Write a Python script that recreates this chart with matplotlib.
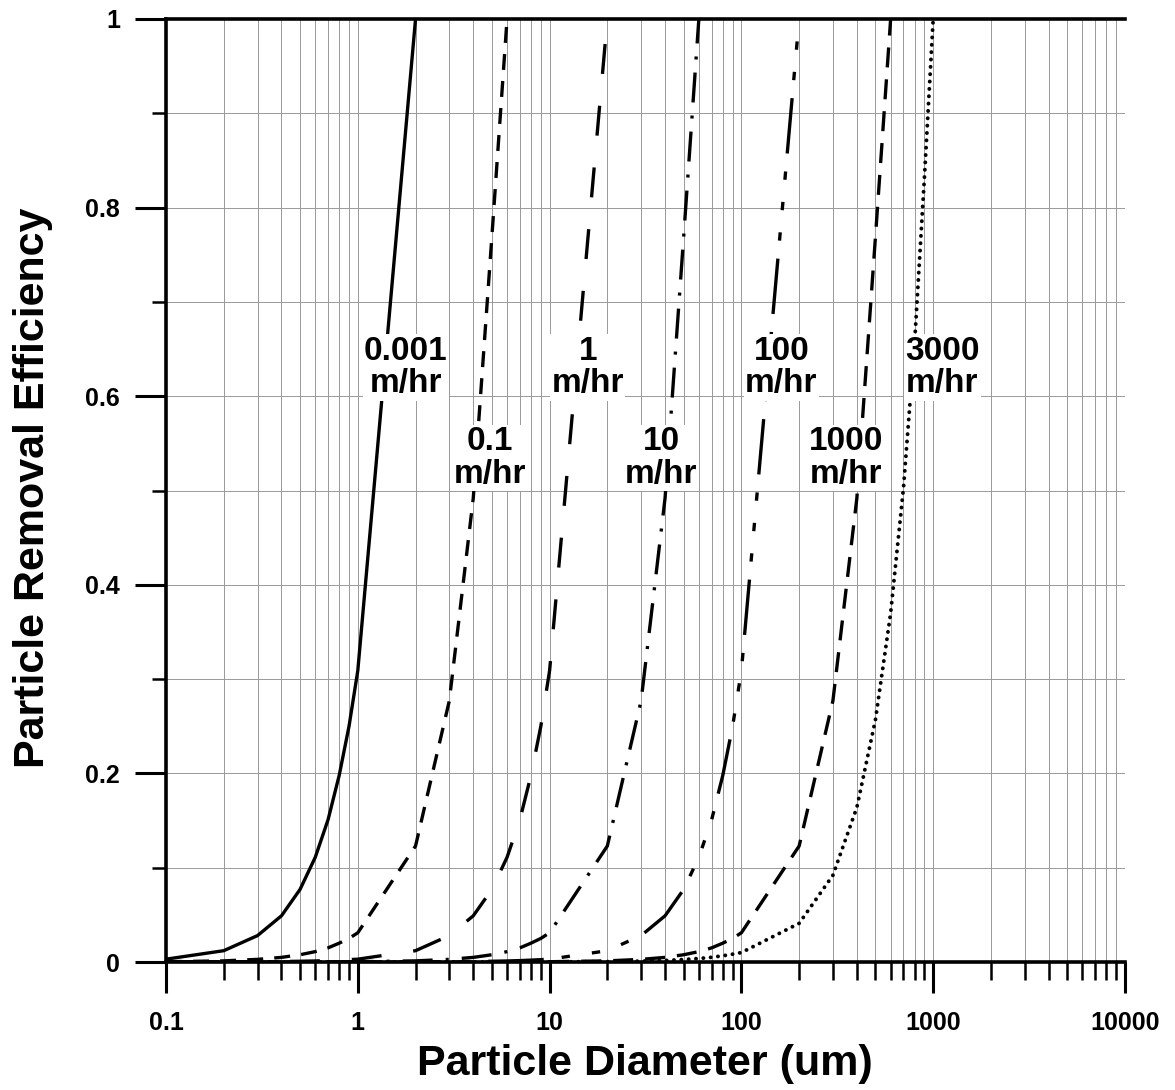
import matplotlib
matplotlib.use("Agg")
import matplotlib.pyplot as plt
from matplotlib.ticker import FixedLocator, NullFormatter

plt.rcParams['font.family'] = ['Liberation Sans', 'DejaVu Sans']
plt.rcParams['font.weight'] = 'bold'
plt.rcParams['lines.scale_dashes'] = False

# particle diameters (um) where the curves were evaluated
diam = [0.1, 0.2, 0.3, 0.4, 0.5, 0.6, 0.7, 0.8, 0.9,
        1, 2, 3, 4, 5, 6, 7, 8, 9,
        10, 20, 30, 40, 50, 60, 70, 80, 90,
        100, 200, 300, 400, 500, 600, 700, 800, 900, 1000]

# removal efficiency for each overflow rate
eff_0001 = [0.003, 0.012, 0.028, 0.049, 0.077, 0.111, 0.151, 0.198, 0.25,
            0.309, 1.0]
eff_01 = [0.0003, 0.0012, 0.0028, 0.0049, 0.0077, 0.011, 0.015, 0.020, 0.025,
          0.031, 0.123, 0.277, 0.492, 0.769, 1.0]
eff_1 = [0.0, 0.0001, 0.0003, 0.0005, 0.0008, 0.0011, 0.0015, 0.002, 0.0025,
         0.003, 0.012, 0.028, 0.049, 0.077, 0.111, 0.151, 0.198, 0.25,
         0.309, 1.0]
eff_10 = [0.0, 0.0, 0.0, 0.0, 0.0001, 0.0001, 0.0002, 0.0002, 0.0002,
          0.0003, 0.0012, 0.0028, 0.0049, 0.0077, 0.011, 0.015, 0.020, 0.025,
          0.031, 0.123, 0.277, 0.492, 0.769, 1.0]
eff_100 = [0.0, 0.0, 0.0, 0.0, 0.0, 0.0, 0.0, 0.0, 0.0,
           0.0, 0.0001, 0.0003, 0.0005, 0.0008, 0.0011, 0.0015, 0.002, 0.0025,
           0.003, 0.012, 0.028, 0.049, 0.077, 0.111, 0.151, 0.198, 0.25,
           0.309, 1.0]
eff_1000 = [0.0, 0.0, 0.0, 0.0, 0.0, 0.0, 0.0, 0.0, 0.0,
            0.0, 0.0, 0.0, 0.0, 0.0, 0.0, 0.0, 0.0, 0.0,
            0.0003, 0.0012, 0.0028, 0.0049, 0.0077, 0.011, 0.015, 0.020, 0.025,
            0.031, 0.123, 0.277, 0.492, 0.769, 1.0]
eff_3000 = [0.0, 0.0, 0.0, 0.0, 0.0, 0.0, 0.0, 0.0, 0.0,
            0.0, 0.0, 0.0, 0.0, 0.0, 0.0, 0.0, 0.0, 0.0,
            0.0001, 0.0004, 0.0009, 0.0016, 0.0026, 0.0037, 0.005, 0.0066, 0.0083,
            0.010, 0.041, 0.092, 0.164, 0.257, 0.37, 0.503, 0.657, 0.832, 1.0]

series = [eff_0001, eff_01, eff_1, eff_10, eff_100, eff_1000, eff_3000]
labels = ['0.001\nm/hr', '0.1\nm/hr', '1\nm/hr', '10\nm/hr',
          '100\nm/hr', '1000\nm/hr', '3000\nm/hr']
# label anchor (diameter, efficiency) at the baseline of the "m/hr" line
label_x = [1.78, 4.87, 15.8, 38.3, 161.6, 352, 1114]
label_y = [0.604, 0.508, 0.604, 0.508, 0.604, 0.508, 0.604]

styles = [
    '-',
    (0, (11.5, 8)),
    (0, (21.6, 23)),
    (0, (21.6, 9.4, 2.2, 9.4)),
    (0, (40, 13, 6, 16, 6, 16, 6, 13)),
    (0, (14.4, 8.6)),
    (0, (0.1, 5.2)),
]

x_ticks = [0.1, 1, 10, 100, 1000, 10000]
x_ticklabels = ['0.1', '1', '10', '100', '1000', '10000']
y_ticks = [0, 0.2, 0.4, 0.6, 0.8, 1]
y_ticklabels = ['0', '0.2', '0.4', '0.6', '0.8', '1']

fig = plt.figure(figsize=(11.75, 10.9), dpi=100)
ax = fig.add_axes([166 / 1175, 1 - 962 / 1090, (1125 - 166) / 1175, (962 - 19) / 1090])
ax.set_xscale('log')
ax.set_xlim(0.1, 10000)
ax.set_ylim(0, 1)

for eff, ls in zip(series, styles):
    line, = ax.plot(diam[:len(eff)], eff, color='black', lw=2.4,
                    linestyle=ls, zorder=3)
    if ls == styles[-1]:
        line.set_dash_capstyle('round')
        line.set_linewidth(2.8)

for txt, lx, ly in zip(labels, label_x, label_y):
    ax.text(lx, ly, txt, ha='center', va='baseline', fontsize=24,
            fontweight='bold', linespacing=1.08, zorder=4,
            bbox=dict(facecolor='white', edgecolor='none', pad=1))

# ticks
minor_x = [m * 10.0 ** k for k in range(-1, 4) for m in range(2, 10)]
ax.xaxis.set_major_locator(FixedLocator(x_ticks))
ax.set_xticklabels(x_ticklabels)
ax.xaxis.set_minor_locator(FixedLocator(minor_x))
ax.xaxis.set_minor_formatter(NullFormatter())
ax.set_yticks(y_ticks)
ax.set_yticklabels(y_ticklabels)
ax.yaxis.set_minor_locator(FixedLocator([0.1, 0.3, 0.5, 0.7, 0.9]))

ax.tick_params(axis='x', which='major', direction='out', length=22, width=2.2,
               pad=13, labelsize=18)
ax.tick_params(axis='x', which='minor', direction='out', length=13, width=1.8)
ax.tick_params(axis='y', which='major', direction='out', length=22, width=2.2,
               pad=11, labelsize=18)
ax.tick_params(axis='y', which='minor', direction='out', length=10, width=1.8)
ax.tick_params(top=False, right=False, which='both')

ax.grid(which='both', axis='both', color='0.6', lw=0.7)
ax.set_axisbelow(True)

for side in ['left', 'bottom', 'top']:
    ax.spines[side].set_linewidth(2.6)
ax.spines['right'].set_visible(False)

fig.text(645 / 1175, 1 - 1064 / 1090, 'Particle Diameter (um)',
         ha='center', va='center', fontsize=31, fontweight='bold')
fig.text(33 / 1175, 1 - 488 / 1090, 'Particle Removal Efficiency', rotation=90,
         ha='center', va='center', fontsize=31, fontweight='bold')

fig.savefig('out.png', dpi=100, facecolor='white')
